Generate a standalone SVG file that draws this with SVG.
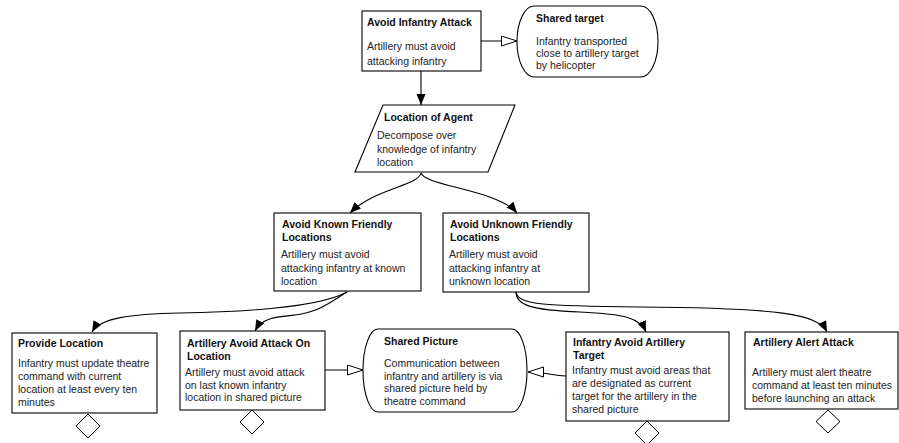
<svg xmlns="http://www.w3.org/2000/svg" width="899" height="443" viewBox="0 0 899 443">
<style>
  .box { fill: #fff; stroke: #000; stroke-width: 1.1; }
  .t { font-family: "Liberation Sans", Arial, sans-serif; font-size: 10.5px; font-weight: bold; fill: #111; }
  .b { font-family: "Liberation Sans", Arial, sans-serif; font-size: 10.5px; fill: #222; }
  .edge { fill: none; stroke: #000; stroke-width: 1.1; }
  .dia { fill: #fff; stroke: #000; stroke-width: 1; }
</style>
<defs>
  <marker id="arrow" markerUnits="userSpaceOnUse" markerWidth="12" markerHeight="10" refX="11" refY="4.5" orient="auto">
    <path d="M0,0 L11,4.5 L0,9 Z" fill="#000"/>
  </marker>
  <marker id="hollow" markerUnits="userSpaceOnUse" markerWidth="18" markerHeight="12" refX="16" refY="5.5" orient="auto">
    <path d="M0.5,0.5 L16,5.5 L0.5,10.5 Z" fill="#fff" stroke="#000" stroke-width="1"/>
  </marker>
</defs>
<rect width="899" height="443" fill="#fff"/>

<g id="connectors">
  <line class="edge" x1="421" y1="71" x2="421" y2="105" marker-end="url(#arrow)"/>
  <line class="edge" x1="481" y1="41" x2="517" y2="41" marker-end="url(#hollow)"/>
  <path class="edge" d="M421,173 C418,186 375,188 350,213" marker-end="url(#arrow)"/>
  <path class="edge" d="M421,173 C425,186 498,190 517,213" marker-end="url(#arrow)"/>
  <path class="edge" d="M347,292 C318,308 240,312 180,313 C130,314 100,318 92,332" marker-end="url(#arrow)"/>
  <path class="edge" d="M347,292 C326,305 318,312 295,315 C275,317 262,318 255,331" marker-end="url(#arrow)"/>
  <path class="edge" d="M516,292 C516,305 530,310 580,312 C625,314 640,318 646,332" marker-end="url(#arrow)"/>
  <path class="edge" d="M516,292 C518,305 545,306 640,307 C780,308 818,314 827,332" marker-end="url(#arrow)"/>
  <line class="edge" x1="325" y1="370" x2="363" y2="370" marker-end="url(#hollow)"/>
  <path class="edge" d="M566,376 C552,376 548,372 528,372" marker-end="url(#hollow)"/>
</g>

<g id="avoid-infantry-attack">
  <rect class="box" x="362" y="11" width="119" height="60"/>
  <text class="t" x="367" y="26">Avoid Infantry Attack</text>
  <text class="b" x="367" y="50">Artillery must avoid</text>
  <text class="b" x="367" y="64.5">attacking infantry</text>
</g>

<g id="shared-target">
  <path class="box" d="M534,6 H641 A17,35.5 0 0 1 641,77 H534 A17,35.5 0 0 1 534,6 Z"/>
  <text class="t" x="536" y="22">Shared target</text>
  <text class="b" x="536" y="45">Infantry transported</text>
  <text class="b" x="536" y="57">close to artillery target</text>
  <text class="b" x="536" y="68.5">by helicopter</text>
</g>

<g id="location-of-agent">
  <polygon class="box" points="383,105 515,105 488,172 355,172"/>
  <text class="t" x="384" y="121">Location of Agent</text>
  <text class="b" x="377" y="139">Decompose over</text>
  <text class="b" x="377" y="153">knowledge of infantry</text>
  <text class="b" x="377" y="166">location</text>
</g>

<g id="avoid-known">
  <rect class="box" x="274" y="213" width="147" height="78"/>
  <text class="t" x="282" y="228">Avoid Known Friendly</text>
  <text class="t" x="282" y="240.5">Locations</text>
  <text class="b" x="281" y="258">Artillery must avoid</text>
  <text class="b" x="281" y="272">attacking infantry at known</text>
  <text class="b" x="281" y="285">location</text>
</g>

<g id="avoid-unknown">
  <rect class="box" x="443" y="213" width="146" height="79"/>
  <text class="t" x="450" y="228">Avoid Unknown Friendly</text>
  <text class="t" x="450" y="240.5">Locations</text>
  <text class="b" x="449" y="258">Artillery must avoid</text>
  <text class="b" x="449" y="272">attacking infantry at</text>
  <text class="b" x="449" y="285">unknown location</text>
</g>

<g id="provide-location">
  <rect class="box" x="12" y="333" width="145" height="80"/>
  <text class="t" x="18" y="347">Provide Location</text>
  <text class="b" x="18" y="367">Infantry must update theatre</text>
  <text class="b" x="18" y="380">command with current</text>
  <text class="b" x="18" y="393">location at least every ten</text>
  <text class="b" x="18" y="406">minutes</text>
  <polygon class="dia" points="88,414 100,426 88,438 76,426"/>
</g>

<g id="artillery-avoid-attack">
  <rect class="box" x="180" y="331" width="145" height="79"/>
  <text class="t" x="187" y="347">Artillery Avoid Attack On</text>
  <text class="t" x="187" y="360">Location</text>
  <text class="b" x="185" y="376">Artillery must avoid attack</text>
  <text class="b" x="185" y="389">on last known infantry</text>
  <text class="b" x="185" y="401">location in shared picture</text>
  <polygon class="dia" points="252,410 264,422 252,434 240,422"/>
</g>

<g id="shared-picture">
  <path class="box" d="M378,329 H512 A15,41.5 0 0 1 512,412 H378 A15,41.5 0 0 1 378,329 Z"/>
  <text class="t" x="384" y="345">Shared Picture</text>
  <text class="b" x="384" y="367">Communication between</text>
  <text class="b" x="384" y="379.5">infantry and artillery is via</text>
  <text class="b" x="384" y="392">shared picture held by</text>
  <text class="b" x="384" y="404.5">theatre command</text>
</g>

<g id="infantry-avoid-target">
  <rect class="box" x="566" y="332" width="163" height="89"/>
  <text class="t" x="573" y="346">Infantry Avoid Artillery</text>
  <text class="t" x="573" y="359">Target</text>
  <text class="b" x="572" y="374">Infantry must avoid areas that</text>
  <text class="b" x="572" y="387">are designated as current</text>
  <text class="b" x="572" y="400">target for the artillery in the</text>
  <text class="b" x="572" y="413">shared picture</text>
  <polygon class="dia" points="647,421 659,433 647,445 635,433"/>
</g>

<g id="artillery-alert-attack">
  <rect class="box" x="745" y="332" width="153" height="77"/>
  <text class="t" x="753" y="346">Artillery Alert Attack</text>
  <text class="b" x="752" y="376">Artillery must alert theatre</text>
  <text class="b" x="752" y="389">command at least ten minutes</text>
  <text class="b" x="752" y="402">before launching an attack</text>
  <polygon class="dia" points="828,410 840,421.5 828,433 816,421.5"/>
</g>
</svg>
